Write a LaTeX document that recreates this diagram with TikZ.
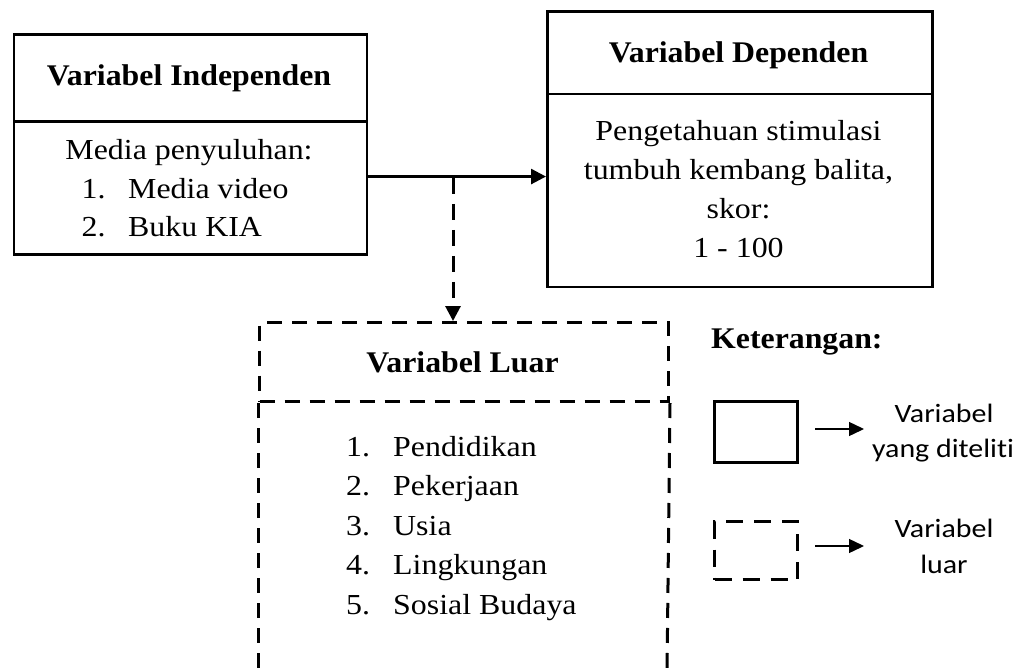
\documentclass[tikz,border=0pt]{standalone}
\usepackage{fontspec}
\setmainfont{Liberation Serif}[FakeStretch=1.1]
\newfontfamily\ttlfont{Liberation Serif}[FakeStretch=1.06]
\newfontfamily\legfont{Carlito}[FakeStretch=1.13, Ligatures=NoCommon]
\usetikzlibrary{arrows.meta}
\begin{document}
\begin{tikzpicture}[x=1pt,y=-1pt,
  box/.style={draw, line width=2.7pt, rectangle, inner sep=0pt, anchor=north west},
  dsh/.style={line width=3pt, dash pattern=on 15pt off 10pt},
  dbox/.style={box, line width=3pt, dash pattern=on 15pt off 10pt},
  txt/.style={inner sep=0pt, anchor=base, font=\fontsize{29}{38.5}\selectfont},
  ttl/.style={inner sep=0pt, anchor=base, font=\ttlfont\fontsize{30}{36}\selectfont\bfseries},
  lst/.style={txt, anchor=base west},
  leg/.style={inner sep=0pt, anchor=base, font=\legfont\fontsize{26.5}{36}\selectfont},
  mainarr/.style={line width=2.7pt, -{Triangle[length=15pt,width=15pt]}},
  legarr/.style={line width=1.4pt, -{Triangle[length=15pt,width=14pt]}},
]
\useasboundingbox (0,0) rectangle (1025,668);

% Variabel Independen
\node[box, minimum width=353pt, minimum height=87.5pt] (indT) at (12.5,33) {};
\node[box, minimum width=353pt, minimum height=132.5pt] (indB) at (12.5,120.5) {};
\node[ttl] (indTtl) at (189,86) {Variabel Independen};
\node[txt] (indHead) at (189,159.3) {Media penyuluhan:};
\node[lst, font=\fontsize{29}{37.8}\selectfont] (indList) at (81.5,198.3) {\begin{tabular}[t]{@{}l@{}}\makebox[46.5pt][l]{1.}Media video\\\makebox[46.5pt][l]{2.}Buku KIA\end{tabular}};

% Variabel Dependen
\node[box, minimum width=385pt, minimum height=82.7pt] (depT) at (546,10) {};
\node[box, minimum width=385pt, minimum height=193pt] (depB) at (546,92.7) {};
\node[ttl] (depTtl) at (738.5,62.7) {Variabel Dependen};
\node[txt, font=\fontsize{29}{39}\selectfont] (depText) at (738.5,140.7) {\begin{tabular}[t]{@{}c@{}}Pengetahuan stimulasi\\tumbuh kembang balita,\\skor:\\1 - 100\end{tabular}};

% Variabel Luar
\node[dbox, minimum width=409pt, minimum height=79pt] (luarT) at (258,321) {};
\coordinate (luarBL) at (258,675);
\coordinate (luarBR) at (667,675);
\draw[dsh] (luarT.south west) -- (luarBL);
\draw[dsh] (luarT.south east) -- (luarBR);
\node[ttl] (luarTtl) at (462.5,372) {Variabel Luar};
\node[lst, font=\fontsize{29}{39.5}\selectfont] (luarList) at (346,456) {\begin{tabular}[t]{@{}l@{}}\makebox[47pt][l]{1.}Pendidikan\\\makebox[47pt][l]{2.}Pekerjaan\\\makebox[47pt][l]{3.}Usia\\\makebox[47pt][l]{4.}Lingkungan\\\makebox[47pt][l]{5.}Sosial Budaya\end{tabular}};

% connectors
\path ([yshift=14pt]depB.west) coordinate (arrEnd);
\draw[mainarr] (indB.east |- arrEnd) -- (arrEnd);
\coordinate (split) at (453,178);
\draw[mainarr, line width=3pt, dash pattern=on 16pt off 10pt] (split) -- (split |- luarT.north);

% Keterangan
\node[ttl, anchor=base west] (ket) at (711,348) {Keterangan:};
\node[box, minimum width=83pt, minimum height=61pt] (legS) at (713,400) {};
\node[box, line width=3pt, dash pattern=on 17pt off 11pt, minimum width=83pt, minimum height=58pt] (legD) at (713,520) {};
\coordinate (la1s) at (815,429);
\coordinate (la1e) at (864,429);
\coordinate (la2s) at (815,546);
\coordinate (la2e) at (864,546);
\draw[legarr] (la1s) -- (la1e);
\draw[legarr] (la2s) -- (la2e);
\node[leg] (legT1) at (944,422) {Variabel};
\node[leg] (legT2) at (943,457) {yang diteliti};
\node[leg] (legT3) at (944,537) {Variabel};
\node[leg] (legT4) at (944,573) {luar};
\end{tikzpicture}
\end{document}
